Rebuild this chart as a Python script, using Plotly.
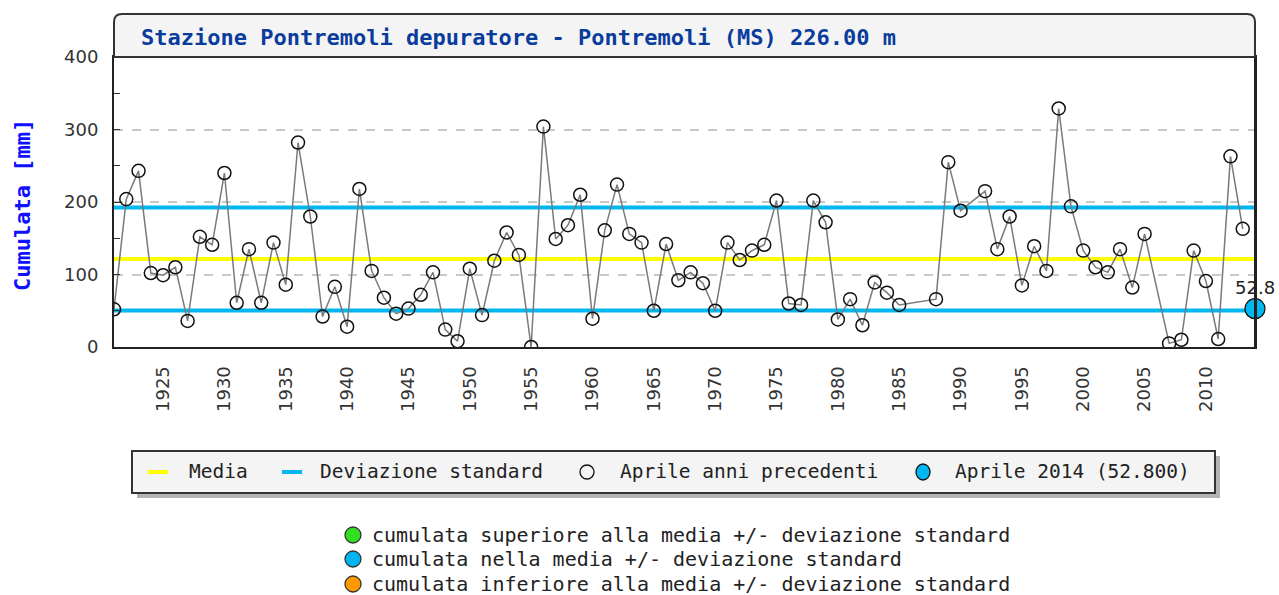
import plotly.graph_objects as go

# ---- data ----
anni = list(range(1921, 1986)) + [1988, 1989, 1990] + list(range(1992, 2006)) + list(range(2007, 2014))
cumulata = [52, 204, 243, 102, 99, 110, 36, 152, 141, 240,
            61, 135, 61, 144, 86, 282, 180, 42, 83, 28,
            218, 105, 68, 46, 53, 72, 103, 24, 8, 108,
            44, 119, 158, 127, 0, 304, 149, 168, 210, 39,
            161, 224, 156, 144, 50, 142, 92, 103, 88, 50,
            144, 120, 133, 141, 202, 60, 58, 202, 172, 38,
            66, 30, 89, 75, 58,
            66, 255, 188,
            215, 135, 180, 85, 139, 105, 329, 194, 133, 110, 103, 135, 82, 156,
            5, 10, 133, 91, 11, 263, 163]
anno_corrente = [2014]
valore_corrente = [52.8]
media = 121.5
dev_std = 71.0
x_range = [1921, 2014]
y_ticks = [0, 100, 200, 300, 400]
x_ticks = list(range(1925, 2011, 5))

titolo = "Stazione Pontremoli depuratore - Pontremoli (MS) 226.00 m"
legenda = ["Media", "Deviazione standard", "Aprile anni precedenti", "Aprile 2014 (52.800)"]
note = ["cumulata superiore alla media +/- deviazione standard",
        "cumulata nella media +/- deviazione standard",
        "cumulata inferiore alla media +/- deviazione standard"]
note_colori = ["#33dd22", "#00b4f0", "#ff9900"]

YELLOW = "#ffff00"
CYAN = "#00b7f0"
MONO = "DejaVu Sans Mono"

fig = go.Figure()

# reference lines
fig.add_trace(go.Scatter(x=x_range, y=[media + dev_std] * 2, mode="lines",
                         line=dict(color=CYAN, width=4), hoverinfo="skip"))
fig.add_trace(go.Scatter(x=x_range, y=[media - dev_std] * 2, mode="lines",
                         line=dict(color=CYAN, width=4), hoverinfo="skip"))
fig.add_trace(go.Scatter(x=x_range, y=[media] * 2, mode="lines",
                         line=dict(color=YELLOW, width=4), hoverinfo="skip"))

# previous years
fig.add_trace(go.Scatter(x=anni, y=cumulata, mode="lines+markers",
                         line=dict(color="#7a7a7a", width=1.5),
                         marker=dict(symbol="circle-open", size=13,
                                     line=dict(color="#111111", width=1.5), color="#111111")))
# current year
fig.add_trace(go.Scatter(x=anno_corrente, y=valore_corrente, mode="markers",
                         marker=dict(symbol="circle", size=20, color=CYAN,
                                     line=dict(color="#111111", width=1.2)),
                         cliponaxis=False))

fig.add_annotation(x=anno_corrente[0], y=valore_corrente[0], text="52.8", showarrow=False,
                   yshift=21, font=dict(family="DejaVu Sans", size=18, color="#222"))

W, H = 1279, 595
L, R, T, B = 114, 24, 57, 248
pw, ph = W - L - R, H - T - B


def px(xp):
    return (xp - L) / pw


def py(yp):
    return (H - B - yp) / ph


shapes = []
# title box with rounded top corners
y1 = py(14)
rx, ry = 8 / pw, 8 / ph
path = (f"M 0,1 L 0,{y1 - ry} Q 0,{y1} {rx},{y1} L {1 - rx},{y1} "
        f"Q 1,{y1} 1,{y1 - ry} L 1,1 Z")
shapes.append(dict(type="path", path=path, xref="paper", yref="paper",
                   fillcolor="#f4f4f4", line=dict(color="#333333", width=2), layer="above"))
# right frame line drawn over the current-year marker
shapes.append(dict(type="line", xref="paper", yref="paper", x0=1, x1=1, y0=0, y1=1,
                   line=dict(color="#222", width=2), layer="above"))

# legend box + shadow
shapes.append(dict(type="rect", xref="paper", yref="paper",
                   x0=px(137), x1=px(1220), y0=py(456), y1=py(498),
                   fillcolor="#b4b4b4", line=dict(width=0)))
shapes.append(dict(type="rect", xref="paper", yref="paper",
                   x0=px(132), x1=px(1215), y0=py(451), y1=py(493),
                   fillcolor="#f4f4f4", line=dict(color="#333333", width=2)))
ly = py(472)
shapes.append(dict(type="line", xref="paper", yref="paper", x0=px(148), x1=px(168), y0=ly, y1=ly,
                   line=dict(color=YELLOW, width=4)))
shapes.append(dict(type="line", xref="paper", yref="paper", x0=px(282), x1=px(302), y0=ly, y1=ly,
                   line=dict(color=CYAN, width=4)))
shapes.append(dict(type="circle", xref="paper", yref="paper", xsizemode="pixel", ysizemode="pixel",
                   xanchor=px(587), yanchor=ly, x0=-7, x1=7, y0=-7, y1=7,
                   line=dict(color="#111", width=1.3)))
shapes.append(dict(type="circle", xref="paper", yref="paper", xsizemode="pixel", ysizemode="pixel",
                   xanchor=px(923), yanchor=ly, x0=-7, x1=7, y0=-8, y1=8,
                   fillcolor=CYAN, line=dict(color="#111", width=1.3)))

leg_x = [187, 318, 618, 953]
for xx, tt in zip(leg_x, legenda):
    fig.add_annotation(x=px(xx), y=ly, xref="paper", yref="paper", text=tt, showarrow=False,
                       xanchor="left", yanchor="middle",
                       font=dict(family=MONO, size=19.5, color="#222"))

note_y = [535, 559, 584]
for yy, tt, cc in zip(note_y, note, note_colori):
    shapes.append(dict(type="circle", xref="paper", yref="paper", xsizemode="pixel", ysizemode="pixel",
                       xanchor=px(353), yanchor=py(yy), x0=-8, x1=8, y0=-8, y1=8,
                       fillcolor=cc, line=dict(color="#333", width=1.3)))
    fig.add_annotation(x=px(370), y=py(yy), xref="paper", yref="paper", text=tt, showarrow=False,
                       xanchor="left", yanchor="middle",
                       font=dict(family=MONO, size=20, color="#222"))

# title
fig.add_annotation(x=px(139), y=py(38), xref="paper", yref="paper", text=f"<b>{titolo}</b>",
                   showarrow=False, xanchor="left", yanchor="middle",
                   font=dict(family=MONO, size=22, color="#0a3c9c"))
# y title
fig.add_annotation(x=px(22), y=py(205), xref="paper", yref="paper", text="<b>Cumulata [mm]</b>",
                   showarrow=False, xanchor="center", yanchor="middle", textangle=-90,
                   font=dict(family=MONO, size=22, color="#1010ff"))

fig.update_layout(
    width=W, height=H,
    margin=dict(l=L, r=R, t=T, b=B, pad=0),
    paper_bgcolor="white", plot_bgcolor="white",
    showlegend=False,
    shapes=shapes,
    xaxis=dict(range=x_range, tickmode="array", tickvals=x_ticks, ticktext=[str(v) for v in x_ticks],
               tickangle=-90, showgrid=False, zeroline=False, showline=True, mirror=True,
               linecolor="#222", linewidth=2, ticks="", ticklabelstandoff=10,
               tickfont=dict(family="DejaVu Sans", size=18, color="#333")),
    yaxis=dict(range=[0, 400], tickmode="array", tickvals=y_ticks, showgrid=True,
               gridcolor="#c8c8c8", griddash="dash", gridwidth=1.5, zeroline=False,
               showline=True, mirror=True, linecolor="#222", linewidth=2,
               ticks="inside", ticklen=6, tickcolor="#333", ticklabelstandoff=10,
               minor=dict(dtick=50, ticks="inside", ticklen=6, tickcolor="#333", showgrid=False),
               tickfont=dict(family="DejaVu Sans", size=18, color="#333")),
)

fig.write_html("out.html", config={"displayModeBar": False},
               post_script="document.body.style.margin='0';document.body.style.overflow='hidden';")
